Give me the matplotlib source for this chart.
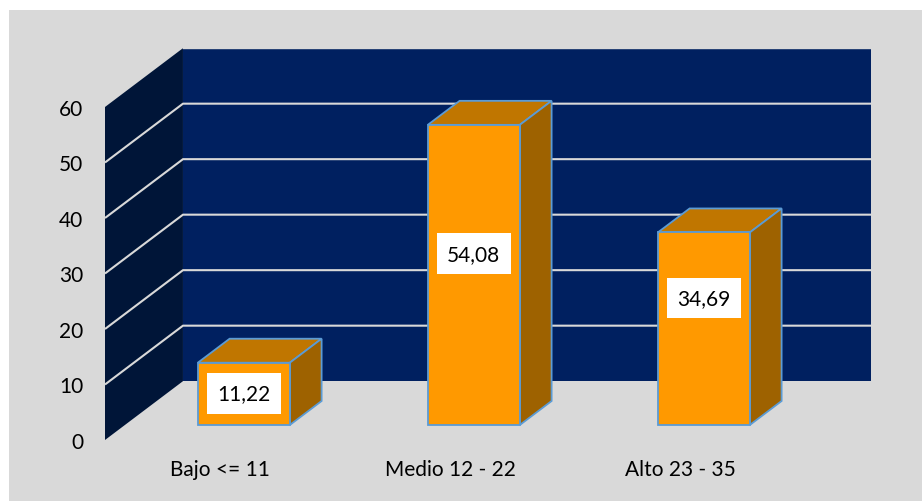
import matplotlib
matplotlib.use("Agg")
import matplotlib.pyplot as plt
from matplotlib.patches import Polygon, Rectangle

categories = ["Bajo <= 11", "Medio 12 - 22", "Alto 23 - 35"]
values = [11.22, 54.08, 34.69]
valueLabels = ["11,22", "54,08", "34,69"]
yTicks = [0, 10, 20, 30, 40, 50, 60]

# where the white label box sits on each bar (fraction of the bar height)
labelFrac = [0.51, 0.57, 0.66]

plt.rcParams['font.family'] = ['Lato', 'DejaVu Sans']

# fake 3d: depth offset of the back wall, in data units
DX = 0.339
DY = 10.6
front = 0.255   # bar front face depth (0 = front plane, 1 = back wall)
back = 0.663
barW = 0.4
barShift = 0.017

wallCol = "#002060"
sideCol = "#001538"
gridCol = "#d9d9d9"
faceCol = "#ff9900"
topCol = "#c07600"
rightCol = "#9e6200"
edgeCol = "#5b9bd5"


def shift(x, y, d):
    return (x + d * DX, y + d * DY)


fig = plt.figure(figsize=(9.22, 5.02), dpi=100, facecolor="white")
bg = Rectangle((9 / 922, 0), 1, (502 - 11) / 502, transform=fig.transFigure,
               facecolor="#d9d9d9", edgecolor="none", zorder=-10)
fig.patches.append(bg)

ax = fig.add_axes([105 / 922, 61 / 502, 766 / 922, 393 / 502])
ax.set_zorder(5)
ax.set_facecolor("none")
ax.set_xlim(-0.5, -0.5 + 766 / 230)
ax.set_ylim(0, 393 / 5.55)
top = yTicks[-1]
x0 = -0.5
x1 = len(categories) - 0.5

# left side wall and back wall
ax.add_patch(Polygon([(x0, 0), (x0, top), shift(x0, top, 1), shift(x0, 0, 1)],
                     closed=True, facecolor=sideCol, edgecolor="none", zorder=1))
ax.add_patch(Polygon([shift(x0, 0, 1), shift(x1, 0, 1), shift(x1, top, 1), shift(x0, top, 1)],
                     closed=True, facecolor=wallCol, edgecolor="none", zorder=1))

# gridlines
for v in yTicks[1:-1]:
    p0 = (x0, v)
    p1 = shift(x0, v, 1)
    p2 = shift(x1, v, 1)
    ax.plot([p0[0], p1[0], p2[0]], [p0[1], p1[1], p2[1]], color=gridCol, lw=1.5, zorder=2,
            solid_capstyle="butt")
p1 = shift(x0, top, 1)
p2 = shift(x1, top, 1)
ax.plot([p1[0], p2[0]], [p1[1], p2[1]], color=gridCol, lw=1.0, zorder=2)

# bars
for i, v in enumerate(values):
    bl = i + barShift - barW / 2
    br = i + barShift + barW / 2
    fl = shift(bl, 0, front)
    topFace = [shift(bl, v, front), shift(br, v, front), shift(br, v, back), shift(bl, v, back)]
    sideFace = [shift(br, 0, front), shift(br, 0, back), shift(br, v, back), shift(br, v, front)]
    ax.add_patch(Polygon(topFace, closed=True, facecolor=topCol, edgecolor=edgeCol, lw=1.3,
                         joinstyle="miter", zorder=3))
    ax.add_patch(Polygon(sideFace, closed=True, facecolor=rightCol, edgecolor=edgeCol, lw=1.3,
                         joinstyle="miter", zorder=3))
    ax.add_patch(Rectangle(fl, barW, v, facecolor=faceCol, edgecolor=edgeCol, lw=1.3,
                           joinstyle="miter", zorder=4))
    cx = fl[0] + barW / 2
    cy = fl[1] + v * labelFrac[i]
    ax.text(cx, cy, valueLabels[i], ha="center", va="center", fontsize=15, color="black",
            zorder=5, bbox=dict(boxstyle="square,pad=0.5", facecolor="white", edgecolor="none"))

ax.set_xticks(range(len(categories)))
ax.set_xticklabels(categories, fontsize=15)
ax.set_yticks(yTicks)
ax.set_yticklabels([str(t) for t in yTicks], fontsize=15)
ax.tick_params(axis="x", length=0, pad=13.7)
ax.tick_params(axis="y", length=0, pad=15.8)
for s in ax.spines.values():
    s.set_visible(False)

fig.savefig("out.png", dpi=100, facecolor=fig.get_facecolor())
